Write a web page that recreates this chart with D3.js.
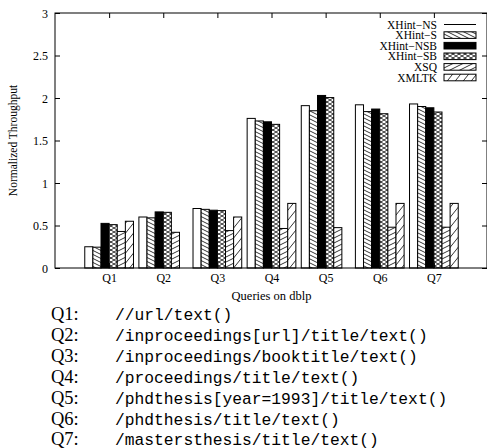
<!DOCTYPE html>
<html>
<head>
<meta charset="utf-8">
<script src="https://cdn.jsdelivr.net/npm/d3@7"></script>
<style>
  html, body { margin: 0; padding: 0; background: #fff; }
  svg { display: block; }
</style>
</head>
<body>
<svg id="chart" width="487" height="448"></svg>
<script>
// Normalized throughput per query, one array per system
const categories = ["Q1", "Q2", "Q3", "Q4", "Q5", "Q6", "Q7"];
const seriesNames = ["XHint−NS", "XHint−S", "XHint−NSB", "XHint−SB", "XSQ", "XMLTK"];
const xhintNS  = [0.25, 0.60, 0.70, 1.76, 1.91, 1.92, 1.93];
const xhintS   = [0.245, 0.59, 0.69, 1.73, 1.85, 1.84, 1.90];
const xhintNSB = [0.525, 0.66, 0.68, 1.72, 2.03, 1.87, 1.885];
const xhintSB  = [0.51, 0.655, 0.675, 1.69, 2.005, 1.815, 1.835];
const xsq      = [0.43, 0.42, 0.44, 0.465, 0.475, 0.48, 0.48];
const xmltk    = [0.55, null, 0.60, 0.76, null, 0.76, 0.76];
const yTicks = [0, 0.5, 1, 1.5, 2, 2.5, 3];
const queries = [
  "//url/text()",
  "/inproceedings[url]/title/text()",
  "/inproceedings/booktitle/text()",
  "/proceedings/title/text()",
  "/phdthesis[year=1993]/title/text()",
  "/phdthesis/title/text()",
  "/mastersthesis/title/text()"
];

const series = [xhintNS, xhintS, xhintNSB, xhintSB, xsq, xmltk];
const fills = ["#fff", "url(#pS)", "#000", "url(#pSB)", "url(#pXSQ)", "url(#pXMLTK)"];

const svg = d3.select("#chart");
const serif = "'Liberation Serif', 'Times New Roman', serif";

const plot = { left: 55, right: 488, top: 13, bottom: 268 };
const x = d3.scaleLinear().domain([0, categories.length + 1]).range([plot.left, plot.right]);
const y = d3.scaleLinear().domain([0, 3]).range([plot.bottom, plot.top]);
const barW = x(0.15) - x(0);

// Fill patterns
const defs = svg.append("defs");
function linePattern(id, w, h, paths) {
  const p = defs.append("pattern").attr("id", id)
    .attr("patternUnits", "userSpaceOnUse").attr("width", w).attr("height", h);
  p.append("rect").attr("width", w).attr("height", h).attr("fill", "#fff");
  paths.forEach(d => p.append("path").attr("d", d)
    .attr("stroke", "#000").attr("stroke-width", 0.8).attr("fill", "none"));
}
// descending lines
linePattern("pS", 8, 4, ["M0,0L8,4", "M-8,0L0,4", "M8,0L16,4", "M0,-4L8,0", "M0,4L8,8"]);
// crosshatch
linePattern("pSB", 6, 4, ["M0,0L6,4", "M0,4L6,0", "M-6,0L0,4", "M6,0L12,4", "M-6,4L0,0", "M6,4L12,0"]);
// shallow rising lines
linePattern("pXSQ", 10, 5, ["M0,5L10,0", "M-10,5L0,0", "M10,5L20,0", "M0,0L10,-5", "M0,10L10,5"]);
// steep rising lines
linePattern("pXMLTK", 8, 10, ["M0,10L8,0", "M-8,10L0,0", "M8,10L16,0"]);

// Bars
const g = svg.append("g");
categories.forEach((c, i) => {
  series.forEach((s, j) => {
    const v = s[i];
    if (v == null) return;
    const cx = x(i + 1) + (j - series.length / 2) * barW;
    g.append("rect")
      .attr("x", cx).attr("y", y(v))
      .attr("width", barW).attr("height", y(0) - y(v))
      .attr("fill", fills[j])
      .attr("stroke", "#000").attr("stroke-width", 1);
  });
});

// Axes with inward ticks on all four sides
const catTicks = categories.map((c, i) => i + 1);
function styleAxis(sel) {
  sel.select(".domain").remove();
  sel.selectAll("line").attr("stroke", "#000");
  sel.selectAll("text").attr("font-family", serif).attr("font-size", 12).attr("fill", "#000");
}
svg.append("g").attr("transform", `translate(${plot.left},0)`)
  .call(d3.axisLeft(y).tickValues(yTicks).tickSize(-5).tickPadding(7).tickFormat(d3.format("~g")))
  .call(styleAxis)
  .selectAll("text").attr("dy", "0.35em");
svg.append("g").attr("transform", `translate(${plot.right - 1},0)`)
  .call(d3.axisRight(y).tickValues(yTicks).tickSize(-5).tickFormat(""))
  .call(styleAxis);
svg.append("g").attr("transform", `translate(0,${plot.top})`)
  .call(d3.axisTop(x).tickValues(catTicks).tickSize(-5).tickFormat(""))
  .call(styleAxis);
svg.append("g").attr("transform", `translate(0,${plot.bottom})`)
  .call(d3.axisBottom(x).tickValues(catTicks).tickSize(-5).tickPadding(5).tickFormat(d => categories[d - 1]))
  .call(styleAxis);

// Frame
svg.append("rect")
  .attr("x", plot.left).attr("y", plot.top)
  .attr("width", plot.right - 1 - plot.left).attr("height", plot.bottom - plot.top)
  .attr("fill", "none").attr("stroke", "#000").attr("stroke-width", 1);

// Axis titles
svg.append("text")
  .attr("x", (plot.left + plot.right) / 2).attr("y", 300)
  .attr("text-anchor", "middle")
  .attr("font-family", serif).attr("font-size", 12.5)
  .text("Queries on dblp");
svg.append("text")
  .attr("transform", `translate(17,${(plot.top + plot.bottom) / 2}) rotate(-90)`)
  .attr("text-anchor", "middle")
  .attr("font-family", serif).attr("font-size", 11.5)
  .text("Normalized Throughput");

// Legend
const legend = svg.append("g");
seriesNames.forEach((name, j) => {
  const cy = 24.5 + j * 10.6;
  legend.append("text")
    .attr("x", 437).attr("y", cy).attr("dy", "0.35em")
    .attr("text-anchor", "end")
    .attr("font-family", serif).attr("font-size", 11.5)
    .text(name);
  if (j === 0) {
    legend.append("line")
      .attr("x1", 444).attr("x2", 476).attr("y1", cy).attr("y2", cy)
      .attr("stroke", "#000").attr("stroke-width", 1);
  } else {
    legend.append("rect")
      .attr("x", 444).attr("y", cy - 3.3).attr("width", 32).attr("height", 6.6)
      .attr("fill", fills[j]).attr("stroke", "#000").attr("stroke-width", 1);
  }
});

// Query definitions
const qList = svg.append("g");
queries.forEach((q, i) => {
  const by = 320 + i * 20.9;
  qList.append("text")
    .attr("x", 51).attr("y", by)
    .attr("font-family", serif).attr("font-size", 18.5)
    .text(categories[i] + ":");
  qList.append("text")
    .attr("x", 115).attr("y", by)
    .attr("font-family", "'Liberation Mono', 'DejaVu Sans Mono', monospace")
    .attr("font-size", 16.3)
    .text(q);
});
</script>
</body>
</html>
